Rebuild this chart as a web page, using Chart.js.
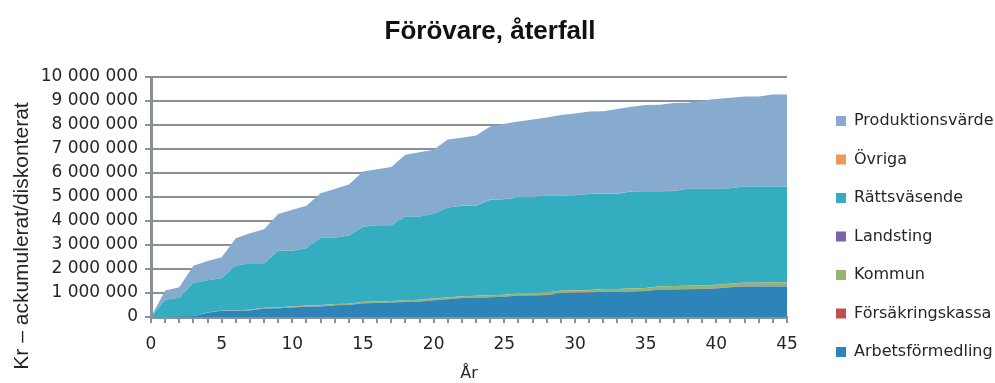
<!DOCTYPE html>
<html>
<head>
<meta charset="utf-8">
<script src="https://cdn.jsdelivr.net/npm/chart.js@4"></script>
<style>
  body { margin: 0; background: #fff; }
  #wrap { width: 995px; height: 383px; }
</style>
</head>
<body>
<div id="wrap"><canvas id="chart" width="995" height="383"></canvas></div>
<script>
// Data (kr, ackumulerat/diskonterat), år 0-45
const years = [0,1,2,3,4,5,6,7,8,9,10,11,12,13,14,15,16,17,18,19,20,21,22,23,24,25,26,27,28,29,30,31,32,33,34,35,36,37,38,39,40,41,42,43,44,45];

const arbetsformedling = [0,0,10000,30000,180000,260000,260000,270000,350000,360000,400000,430000,440000,490000,500000,570000,580000,600000,630000,640000,700000,740000,790000,800000,820000,840000,900000,900000,920000,990000,1000000,1010000,1050000,1050000,1060000,1080000,1150000,1150000,1160000,1170000,1190000,1240000,1270000,1270000,1270000,1270000];
const forsakringskassa = [0,0,0,0,1000,1000,1000,2000,2000,2000,2000,3000,3000,3000,3000,3000,4000,4000,4000,4000,4000,5000,5000,5000,5000,5000,5000,6000,6000,6000,6000,6000,6000,6000,7000,7000,7000,7000,7000,7000,7000,8000,8000,8000,8000,8000];
const kommun = [0,0,0,0,10000,10000,20000,30000,30000,30000,40000,40000,50000,50000,50000,60000,60000,60000,60000,70000,70000,70000,70000,80000,80000,80000,90000,90000,90000,100000,100000,100000,110000,110000,120000,120000,120000,130000,130000,140000,140000,140000,150000,150000,160000,160000];
const landsting = [0,0,0,0,0,1000,1000,1000,1000,1000,2000,2000,2000,2000,2000,2000,2000,3000,3000,3000,3000,3000,3000,3000,3000,3000,4000,4000,4000,4000,4000,4000,4000,4000,4000,4000,5000,5000,5000,5000,5000,5000,5000,5000,5000,5000];
const rattsvasende = [0,720000,790000,1400000,1340000,1340000,1850000,1940000,1860000,2370000,2320000,2390000,2810000,2760000,2840000,3130000,3180000,3160000,3490000,3470000,3520000,3740000,3770000,3750000,3980000,3980000,3980000,3980000,4040000,3960000,3960000,4010000,3960000,3970000,4040000,4030000,3960000,3960000,4040000,4020000,4000000,3970000,4000000,4000000,3990000,3990000];
const ovriga = [0,0,0,0,1000,1000,1000,1000,2000,2000,2000,2000,2000,2000,3000,3000,3000,3000,3000,3000,3000,3000,4000,4000,4000,4000,4000,4000,4000,4000,4000,5000,5000,5000,5000,5000,5000,5000,5000,5000,5000,5000,5000,5000,5000,5000];
const produktionsvarde = [0,380000,440000,710000,800000,880000,1150000,1250000,1410000,1530000,1700000,1770000,1850000,2030000,2120000,2290000,2330000,2420000,2570000,2670000,2670000,2830000,2830000,2920000,3050000,3140000,3160000,3240000,3250000,3350000,3410000,3430000,3440000,3520000,3520000,3590000,3600000,3660000,3580000,3670000,3740000,3770000,3750000,3750000,3830000,3830000];

const yTicks = [0,1000000,2000000,3000000,4000000,5000000,6000000,7000000,8000000,9000000,10000000];

const FONT = "'DejaVu Sans', sans-serif";
const GRID = '#8b9097';
const TEXT = '#262626';

function points(values) {
  return years.map((y, i) => ({ x: y, y: values[i] }));
}

function serie(label, values, color, fill) {
  return {
    label: label,
    data: points(values),
    backgroundColor: color,
    borderColor: color,
    borderWidth: 0,
    pointRadius: 0,
    tension: 0,
    fill: fill
  };
}

function kr(v) {
  return String(v).replace(/\B(?=(\d{3})+(?!\d))/g, ' ');
}

// Egen y-axeltitel (sitter lägre än diagrammets mitt i originalet)
const yTitle = {
  id: 'yTitle',
  afterDraw(chart) {
    const ctx = chart.ctx;
    ctx.save();
    ctx.translate(22, 236);
    ctx.rotate(-Math.PI / 2);
    ctx.font = "21px 'Liberation Sans', Arial, sans-serif";
    ctx.fillStyle = TEXT;
    ctx.textAlign = 'center';
    ctx.textBaseline = 'middle';
    ctx.fillText('Kr – ackumulerat/diskonterat', 0, 0);
    ctx.restore();
  }
};

// Fast bredd och läge för förklaringen
const legendPlace = {
  id: 'legendPlace',
  beforeInit(chart) {
    const fit = chart.legend.fit;
    chart.legend.fit = function () {
      fit.bind(chart.legend)();
      this.width = 193;
    };
  },
  afterLayout(chart) {
    const lg = chart.legend;
    lg.left = 813.5;
    lg.right = 995;
    lg.width = 995 - 813.5;
    lg.top += 45;
    lg.bottom += 45;
  }
};

new Chart(document.getElementById('chart'), {
  type: 'line',
  data: {
    datasets: [
      serie('Arbetsförmedling', arbetsformedling, '#2c84b9', 'origin'),
      serie('Försäkringskassa', forsakringskassa, '#c0504d', '-1'),
      serie('Kommun', kommun, '#93b571', '-1'),
      serie('Landsting', landsting, '#7766a8', '-1'),
      serie('Rättsväsende', rattsvasende, '#35adc1', '-1'),
      serie('Övriga', ovriga, '#e8995b', '-1'),
      serie('Produktionsvärde', produktionsvarde, '#87abcf', '-1')
    ]
  },
  options: {
    responsive: false,
    animation: false,
    layout: { padding: { left: 0, right: 15, top: 0, bottom: 0 } },
    plugins: {
      tooltip: { enabled: false },
      title: {
        display: true,
        text: 'Förövare, återfall',
        color: '#111',
        font: { family: "'Liberation Sans', Arial, sans-serif", size: 26, weight: 'bold' },
        padding: { top: 16.4, bottom: 29.4 }
      },
      legend: {
        position: 'right',
        reverse: true,
        labels: {
          boxWidth: 10,
          boxHeight: 10,
          padding: 22.5,
          color: TEXT,
          font: { family: FONT, size: 16 }
        }
      }
    },
    scales: {
      x: {
        type: 'linear',
        min: 0,
        max: 45,
        afterFit: scale => { scale.height = 66; },
        border: { color: GRID, width: 3 },
        grid: { drawOnChartArea: false, drawTicks: true, tickLength: 6, color: GRID, lineWidth: 2 },
        ticks: {
          stepSize: 1,
          autoSkip: false,
          maxRotation: 0,
          padding: 11,
          color: TEXT,
          font: { family: FONT, size: 17 },
          callback: v => (v % 5 === 0 ? String(v) : '')
        },
        title: {
          display: true,
          text: 'År',
          color: TEXT,
          font: { family: FONT, size: 16 },
          padding: { top: 0, bottom: 0 }
        }
      },
      y: {
        stacked: true,
        min: 0,
        max: 10000000,
        afterFit: scale => { scale.width = 151; },
        afterBuildTicks: scale => { scale.ticks = yTicks.map(v => ({ value: v })); },
        border: { color: GRID, width: 3 },
        grid: { color: GRID, lineWidth: 2, tickLength: 6 },
        ticks: {
          padding: 7,
          color: TEXT,
          font: { family: FONT, size: 17 },
          callback: v => kr(v)
        }
      }
    }
  },
  plugins: [yTitle, legendPlace]
});
</script>
</body>
</html>
